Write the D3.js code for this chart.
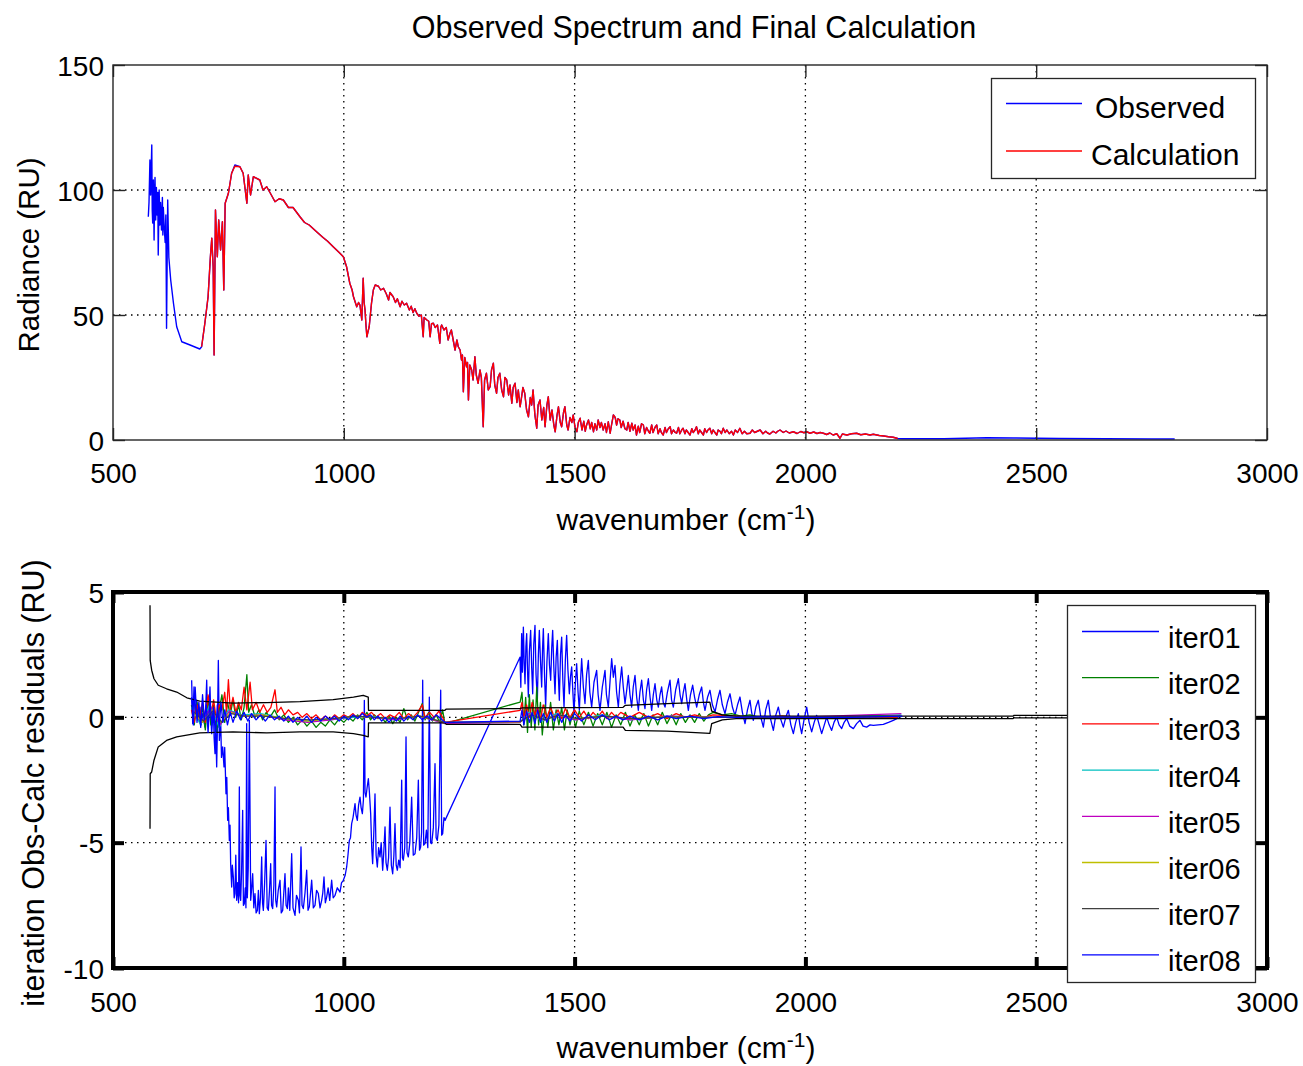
<!DOCTYPE html>
<html><head><meta charset="utf-8">
<script src="https://cdn.jsdelivr.net/npm/d3@7"></script>
<style>body{margin:0;background:#fff} text{font-family:"Liberation Sans",Arial,sans-serif;fill:#000}</style>
</head><body><svg id="c" width="1303" height="1066"></svg>
<script>
// ---------- data ----------
const xTicks = [500, 1000, 1500, 2000, 2500, 3000];
const topYTicks = [0, 50, 100, 150];
const botYTicks = [-10, -5, 0, 5];
const topLegend = ["Observed", "Calculation"];
const iterNames = ["iter01","iter02","iter03","iter04","iter05","iter06","iter07","iter08"];

// [wavenumber, radiance]
const observed = [
 [576.5,89.3],[578,95],[580,112],[581.5,98],[584,118],[585,92],[586,86.8],[587.5,104],[589,80],[590,96],[591,105],[592.5,88],
 [594,101],[595.5,90],[597,99],[598,74],[600,100],[601.5,86],[603,95],[605,84],[607,97],[608,82],
 [609,93],[611,85],[613,79],[614.5,90],[616,44.7],[618.5,96],[621,73],[625,64],[631,54.7],[638,45.3],[649,39.3],[667,38],[688,36.4],
 [692,37.3],[699,46.7],[706,57.3],[711,73.3],[714,80.7],[717,69.3],[719,34],[722,92],[726,73.3],
 [729,88],[733,76],[737,87.3],[740,60],[743,94.7],[750,98.7],[757,106.7],[764,110],[775,109.3],[782,106.7],
 [790,94.7],[793,106],[798,98],[804,105.3],[818,104],[825,100],[833,101.3],[840,99],[851,95.3],[860,96.5],
 [869,96],[880,93],[890,93],[905,89.3],[915,87],[925,86],[941,83.3],[955,81],[965,79.5],[977,77.3],[990,75],
 [999,73.3],[1006,69.3],[1013,62.7],[1018,60],[1021,57.3],[1025,55],[1028,53.3],[1032,55],[1035,54],[1039,48],
 [1042,64.7],[1044,55],[1046,52],[1048,46],[1050,41.3],[1052,43],[1055,45.3],[1060,54.7],[1064,60],[1068,62],
 [1075,61.5],[1080,60],[1086,60.7],[1092,58.5],[1097,56],[1100,59],[1107,57.3],[1112,55],[1116,56.5],[1122,53.3],
 [1126,55.5],[1131,54],[1136,54.7],[1142,52],[1146,53.5],[1150,51],[1154,52.5],[1158,50.7],[1163,49.5],[1168,50],
 [1172,41.3],[1174,49],[1180,48],[1184,47.5],[1187,41.3],[1190,46.5],[1194,46.7],[1198,45],[1203,46],[1208,38.7],
 [1210,45],[1212,46],[1217,44],[1222,45],[1226,40],[1230,42.7],[1233,44],[1237,40],[1241,36],[1245,40],
 [1248,37.3],[1252,36],[1255,32],[1257,34],[1259,19.3],[1262,33],[1266,29.3],[1268,31],[1270,16],[1273,30],
 [1277,28],[1280,24],[1284,33.3],[1287,26],[1291,22.7],[1295,28],[1298,25],[1302,5.3],[1305,24],[1309,26.7],
 [1313,20],[1317,21.3],[1320,28],[1324,30.7],[1327,22],[1331,18.7],[1334,25],[1338,26.7],[1342,20],[1346,17.3],
 [1349,25],[1353,24],[1357,18],[1360,22],[1364,14.7],[1367,21],[1371,22.7],[1375,15],[1378,20],[1382,13.3],
 [1385,17],[1388,21],[1392,18.7],[1396,12],[1400,9.3],[1404,17],[1407,14],[1410,20],[1414,10],[1418,4.7],
 [1421,14],[1425,16],[1429,8],[1433,13],[1436,5.3],[1440,14],[1443,17.3],[1447,8],[1451,12],[1455,6],
 [1458,3.3],[1462,10],[1465,13.3],[1469,7],[1472,5.3],[1476,11],[1479,13.3],[1483,6],[1486,4],[1490,9],
 [1494,7],[1497,10],[1501,5],[1505,3.3],[1508,7],[1512,8.7],[1516,4],[1520,7.5],[1523,3.5],[1526,6],
 [1530,8],[1534,4.5],[1537,7],[1541,3.3],[1544,6.5],[1548,4],[1551,8],[1555,5],[1558,7],[1562,4],
 [1566,6.5],[1569,3],[1573,7.3],[1577,2.7],[1580,6],[1584,10],[1588,9],[1591,6],[1594,8.5],[1598,8],
 [1601,5],[1605,7.5],[1609,4.5],[1613,4],[1616,7],[1620,3.5],[1624,6.7],[1627,4],[1631,6],[1634,2],
 [1638,5.5],[1641,3],[1645,6.5],[1649,6],[1652,2.5],[1656,5],[1660,3.5],[1663,2.7],[1667,6],[1670,3],
 [1674,5],[1678,6],[1681,2.5],[1685,4.5],[1688,3],[1692,2],[1696,5],[1699,3],[1703,4.5],[1707,5.3],
 [1710,2.5],[1714,4],[1718,3],[1721,2.7],[1725,5],[1728,2.5],[1732,4],[1735,4.7],[1739,2.5],[1742,4],
 [1746,3],[1750,2],[1754,4.5],[1757,3],[1761,4],[1764,5.3],[1768,2.5],[1771,4],[1775,3],[1779,2],
 [1782,4.5],[1786,3],[1789,4],[1793,4.7],[1797,2.5],[1800,4],[1804,3],[1808,2],[1811,4],[1815,3.5],
 [1818,2.5],[1822,4.7],[1826,3],[1830,4],[1835,2.5],[1840,3.5],[1844,2],[1848,4],[1853,3],[1858,4.7],
 [1863,2.5],[1868,3.5],[1873,2.5],[1880,2.7],[1885,4],[1890,3],[1896,3.5],[1902,4],[1908,2.5],[1914,3.5],
 [1918,2.8],[1923,2.4],[1930,3.5],[1936,2.8],[1940,3.5],[1945,4],[1952,3],[1958,3.6],[1965,2.8],[1974,3.3],
 [1982,2.6],[1990,3.4],[1997,2.9],[2003,3.3],[2010,2.7],[2018,3.2],[2025,2.6],[2032,3],[2039,2.7],[2046,2.2],
 [2053,2.8],[2060,2],[2068,2.5],[2075,0.7],[2080,2.4],[2090,2],[2100,2.5],[2111,2.7],[2120,2.1],[2130,2.4],
 [2140,2],[2147,2.3],[2160,1.8],[2170,1.6],[2180,1.3],[2190,1.1],[2200,0.6],[2210,0.5],[2300,0.5],[2393,0.9],
 [2450,0.8],[2550,0.6],[2650,0.5],[2750,0.4],[2800,0.4]];

const calculation = [
 [692,37.3],[699,46.7],[706,57.3],[711,73.3],[714,80.7],[717,69.3],[719,34],[722,92],[726,73.3],
 [729,88],[733,76],[737,87.3],[740,60],[743,94.7],[750,98.7],[757,106.7],[764,109.5],[775,109.3],[782,106.7],
 [790,94.7],[793,106],[798,98],[804,105.3],[818,104],[825,100],[833,101.3],[840,99],[851,95.3],[860,96.5],
 [869,96],[880,93],[890,93],[905,89.3],[915,87],[925,86],[941,83.3],[955,81],[965,79.5],[977,77.3],[990,75],
 [999,73.3],[1006,69.3],[1013,62.7],[1018,60],[1021,57.3],[1025,55],[1028,53.3],[1032,55],[1035,54],[1039,48],
 [1042,64.7],[1044,55],[1046,52],[1048,46],[1050,41.3],[1052,43],[1055,45.3],[1060,54.7],[1064,60],[1068,62],
 [1075,61.5],[1080,60],[1086,60.7],[1092,58.5],[1097,56],[1100,59],[1107,57.3],[1112,55],[1116,56.5],[1122,53.3],
 [1126,55.5],[1131,54],[1136,54.7],[1142,52],[1146,53.5],[1150,51],[1154,52.5],[1158,50.7],[1163,49.5],[1168,50],
 [1172,41.3],[1174,49],[1180,48],[1184,47.5],[1187,41.3],[1190,46.5],[1194,46.7],[1198,45],[1203,46],[1208,38.7],
 [1210,45],[1212,46],[1217,44],[1222,45],[1226,40],[1230,42.7],[1233,44],[1237,40],[1241,36],[1245,40],
 [1248,37.3],[1252,36],[1255,32],[1257,34],[1259,19.3],[1262,33],[1266,29.3],[1268,31],[1270,16],[1273,30],
 [1277,28],[1280,24],[1284,33.3],[1287,26],[1291,22.7],[1295,28],[1298,25],[1302,5.3],[1305,24],[1309,26.7],
 [1313,20],[1317,21.3],[1320,28],[1324,30.7],[1327,22],[1331,18.7],[1334,25],[1338,26.7],[1342,20],[1346,17.3],
 [1349,25],[1353,24],[1357,18],[1360,22],[1364,14.7],[1367,21],[1371,22.7],[1375,15],[1378,20],[1382,13.3],
 [1385,17],[1388,21],[1392,18.7],[1396,12],[1400,9.3],[1404,17],[1407,14],[1410,20],[1414,10],[1418,4.7],
 [1421,14],[1425,16],[1429,8],[1433,13],[1436,5.3],[1440,14],[1443,17.3],[1447,8],[1451,12],[1455,6],
 [1458,3.3],[1462,10],[1465,13.3],[1469,7],[1472,5.3],[1476,11],[1479,13.3],[1483,6],[1486,4],[1490,9],
 [1494,7],[1497,10],[1501,5],[1505,3.3],[1508,7],[1512,8.7],[1516,4],[1520,7.5],[1523,3.5],[1526,6],
 [1530,8],[1534,4.5],[1537,7],[1541,3.3],[1544,6.5],[1548,4],[1551,8],[1555,5],[1558,7],[1562,4],
 [1566,6.5],[1569,3],[1573,7.3],[1577,2.7],[1580,6],[1584,10],[1588,9],[1591,6],[1594,8.5],[1598,8],
 [1601,5],[1605,7.5],[1609,4.5],[1613,4],[1616,7],[1620,3.5],[1624,6.7],[1627,4],[1631,6],[1634,2],
 [1638,5.5],[1641,3],[1645,6.5],[1649,6],[1652,2.5],[1656,5],[1660,3.5],[1663,2.7],[1667,6],[1670,3],
 [1674,5],[1678,6],[1681,2.5],[1685,4.5],[1688,3],[1692,2],[1696,5],[1699,3],[1703,4.5],[1707,5.3],
 [1710,2.5],[1714,4],[1718,3],[1721,2.7],[1725,5],[1728,2.5],[1732,4],[1735,4.7],[1739,2.5],[1742,4],
 [1746,3],[1750,2],[1754,4.5],[1757,3],[1761,4],[1764,5.3],[1768,2.5],[1771,4],[1775,3],[1779,2],
 [1782,4.5],[1786,3],[1789,4],[1793,4.7],[1797,2.5],[1800,4],[1804,3],[1808,2],[1811,4],[1815,3.5],
 [1818,2.5],[1822,4.7],[1826,3],[1830,4],[1835,2.5],[1840,3.5],[1844,2],[1848,4],[1853,3],[1858,4.7],
 [1863,2.5],[1868,3.5],[1873,2.5],[1880,2.7],[1885,4],[1890,3],[1896,3.5],[1902,4],[1908,2.5],[1914,3.5],
 [1918,2.8],[1923,2.4],[1930,3.5],[1936,2.8],[1940,3.5],[1945,4],[1952,3],[1958,3.6],[1965,2.8],[1974,3.3],
 [1982,2.6],[1990,3.4],[1997,2.9],[2003,3.3],[2010,2.7],[2018,3.2],[2025,2.6],[2032,3],[2039,2.7],[2046,2.2],
 [2053,2.8],[2060,2],[2068,2.5],[2075,0.7],[2080,2.4],[2090,2],[2100,2.5],[2111,2.7],[2120,2.1],[2130,2.4],
 [2140,2],[2147,2.3],[2160,1.8],[2170,1.6],[2180,1.3],[2190,1.1],[2200,0.6]];

// [wavenumber, residual]
const iter01 = [
 [670.4,1.48],[672.6,-0.25],[675.5,1.21],[678.4,0.15],[681.3,0.68],[684.9,-0.12],[688.5,0.41],[691,-0.3],[694.3,0.15],[699.3,-0.39],
 [703,1.48],[704.5,0.2],[706.5,-0.25],[710.1,1.21],[712,0],[713.8,-0.65],[717.4,0.41],[719,-0.8],[721,-1.45],[722.5,-0.3],
 [724.6,-1.98],[726,-0.6],[728.2,2.27],[730.4,-0.92],[733.3,-0.12],[735,-1.6],[737.6,-1.18],[740.5,-1.98],[742,-1.2],[744.8,-3.05],
 [746.5,-2.4],[748.4,-4.11],[750,-3.6],[752,-4.91],[753.5,-4.3],[754.9,-5.84],[757.1,-6.77],[758.5,-5.9],[760.7,-6.37],[762.5,-7.2],
 [764.3,-7.03],[766,-5.5],[767.9,-7.3],[770,-6.6],[772,-7.4],[773.7,-2.78],[775,-7.1],[776.6,-7.3],[778.5,-6.2],[780.9,-3.71],
 [782.5,-7.5],[784.5,-7.43],[786.5,-6.8],[788,-7.6],[789.6,-0.25],[791,-7.2],[793,-6],[795.4,-0.12],[798.3,-7.3],[800.5,-6.8],
 [802.6,-6.24],[805,-7.6],[807.6,-7.03],[810,-7.8],[812.7,-7.7],[815,-6.9],[817,-7.83],[819.5,-7.2],[822.1,-5.57],[824,-7.4],
 [825.7,-7.7],[828.5,-6.6],[831.5,-4.91],[834,-7.6],[836.5,-7.7],[839,-6.9],[841.6,-5.84],[843.5,-7.5],[845.9,-7.63],[848.5,-6.7],
 [851,-2.78],[852.5,-7.3],[854.6,-7.56],[858,-6.9],[861.8,-6.5],[864.5,-7.8],[867.6,-7.7],[870,-7],[872.6,-6.24],[875,-7.5],
 [877.7,-7.63],[880,-6.8],[883,-7.7],[887.1,-5.44],[890,-7.6],[894.3,-7.9],[897.5,-7.1],[901.5,-7.3],[904,-7.8],[907.3,-5.17],
 [909.5,-7.5],[912.3,-7.63],[916,-7],[919.6,-6.1],[922.5,-7.7],[925.3,-7.56],[928,-7],[930.4,-6.5],[934,-7.6],[937.6,-7.5],
 [941,-6.9],[944.8,-7.03],[948.5,-7.6],[952.1,-7.3],[954.5,-7],[957.1,-6.37],[960,-7.4],[962.9,-7.17],[966,-6.8],[969.5,-7.3],
 [973.7,-6.5],[977,-7.2],[981,-7.1],[986,-6.8],[991.8,-6.97],[995,-6.6],[999,-6.5],[1003,-6.3],[1006.2,-5.97],[1009,-5.5],
 [1012,-4.91],[1014.5,-4.8],[1017,-4.24],[1020,-4],[1024.3,-3.44],[1026.5,-3.9],[1029.3,-4.11],[1032,-3.5],[1035.1,-3.18],[1037.5,-3.6],
 [1040.2,-3.84],[1042.5,-3.3],[1044.5,0.68],[1046,-3],[1048.1,-3.18],[1050.5,-2.8],[1053.2,-2.45],[1055.5,-3],[1058.2,-3.84],[1060.5,-5.2],
 [1062.5,-5.84],[1065,-4.6],[1067.6,-3.05],[1070,-5.5],[1072.6,-5.97],[1075.5,-5.2],[1078.4,-5.57],[1081,-5],[1084.2,-6.1],[1086.5,-5.4],
 [1089.3,-4.37],[1091.5,-5.8],[1094.3,-6.1],[1097,-5.6],[1100.1,-3.58],[1103,-5.9],[1105.9,-6.24],[1108.5,-5.5],[1110.9,-4.24],[1113.5,-5.9],
 [1116,-6.1],[1119,-5.7],[1122,-6],[1125.4,-2.51],[1127,-5.6],[1129,-5.7],[1132,-5.2],[1134.8,-0.78],[1137,-5.4],[1139.8,-5.57],
 [1143,-5],[1147,-3.18],[1150.5,-5.5],[1154.3,-5.44],[1158,-4.8],[1161.5,-2.51],[1164,-5.3],[1166.5,-5.17],[1168.5,-4.6],[1170.9,1.48],
 [1173,-5.1],[1175.9,-5.04],[1179,-4.5],[1182,-5.2],[1185.3,0.81],[1188,-5],[1190.4,-5.04],[1194,-4.4],[1197.6,-1.85],[1200,-4.8],
 [1202.6,-4.91],[1206,-4.3],[1209.9,1.08],[1212,-4.7],[1214.2,-4.64],[1217,-4],[1219.3,-4.11],
 [1381.7,2.4],[1383.5,1.2],[1385.3,3.34],[1387,1.8],[1389,3.6],[1390.8,2.2],[1392.6,1.34],[1394.5,2.8],[1396.2,3.34],[1398,1.9],
 [1399.8,0.81],[1402,2.6],[1404.8,3.47],[1407,2],[1409.2,0.94],[1411.5,2.9],[1414.2,3.67],[1416.5,1.7],[1419.3,0.68],[1421.5,2.5],
 [1423.6,3.47],[1426,2.3],[1428.7,1.21],[1430.5,2.7],[1432.3,3.54],[1435,1.6],[1437.3,0.41],[1440,2.2],[1443.1,3.34],[1445.5,2.1],
 [1448.2,1.48],[1450.5,2.8],[1452.5,3.47],[1455,2],[1457.6,0.94],[1460,2.4],[1462.6,3.07],[1464.5,1.8],[1466.9,0.68],[1469.5,2.5],
 [1472,3.2],[1474.5,1.5],[1477.1,0.41],[1480,2.3],[1482.8,3.27],[1485.5,1.9],[1488.6,0.94],[1491,1.6],[1493.7,2.01],[1496,1.1],
 [1498.7,0.15],[1501.5,1.3],[1504.5,2.14],[1507.5,1],[1510.3,0.28],[1513,1.5],[1515.3,2.34],[1519,1.2],[1522.5,0.55],[1526,1.7],
 [1529.8,2.27],[1533,1],[1537,0.41],[1542,1.4],[1547.8,1.87],[1551,0.9],[1555,0.28],[1560,1.2],[1565.9,1.87],[1569,0.9],
 [1573.1,0.41],[1577,1.5],[1580.3,2.34],[1584,1.6],[1587.5,2.07],[1591,1],[1594.8,0.41],[1598,1.3],[1602,2.01],[1605.5,1.2],
 [1609.2,0.55],[1613,1.1],[1616.4,1.67],[1620,0.9],[1623.6,0.41],[1627,1.2],[1630.9,1.67],[1634.5,0.8],[1638.1,0.28],[1641.5,1],
 [1645.3,1.48],[1649,0.7],[1652.5,0.35],[1656,1.1],[1659.8,1.54],[1663.5,0.8],[1667,0.28],[1670.5,0.9],[1674.2,1.34],[1678,0.7],
 [1681.4,0.41],[1685,0.9],[1688.6,1.21],[1692,0.6],[1695.9,0.41],[1701,1],[1706.7,1.48],[1710,0.7],[1713.9,0.41],[1719,1.1],
 [1724.8,1.54],[1728.5,0.9],[1732,0.55],[1735.5,1],[1739.2,1.34],[1743,0.7],[1746.4,0.28],[1751,0.9],[1755.8,1.28],[1760,0.8],
 [1764.5,0.41],[1770,0.9],[1775.3,1.21],[1779,0.6],[1782.5,0.28],[1788,0.8],[1793.3,1.08],[1798.5,0.5],[1804.2,0.21],[1809.5,0.7],
 [1815,1.08],[1820,0.5],[1825.8,0.15],[1831,0.6],[1836.7,0.94],[1842,0.4],[1847.5,0.08],[1853,0.5],[1858.3,0.81],[1863.5,0.2],
 [1869.2,-0.25],[1874.5,0.3],[1880,0.68],[1883.5,0.2],[1887.2,-0.12],[1892.5,0.4],[1898,0.68],[1903.5,0],[1908.9,-0.39],[1914,0.3],
 [1919.7,0.68],[1925,-0.1],[1930.6,-0.52],[1936,0.1],[1941.4,0.41],[1947,-0.1],[1952.2,-0.39],[1957.5,0],[1963.1,0.28],[1968.5,-0.3],
 [1973.9,-0.65],[1979,-0.2],[1984.7,0.15],[1988,-0.3],[1991.9,-0.65],[1997,-0.1],[2002.8,0.41],[2008,-0.2],[2013.6,-0.58],[2019,-0.2],
 [2024.4,0.08],[2030,-0.3],[2035.3,-0.65],[2041,-0.3],[2046.1,0.01],[2051.5,-0.3],[2056.9,-0.52],[2062,-0.2],[2067.8,0.01],[2073,-0.3],
 [2078.6,-0.45],[2084,-0.2],[2089.4,-0.05],[2096,-0.35],[2103.9,-0.45],[2111,-0.25],[2118.3,-0.12],[2125,-0.35],[2132.7,-0.39],[2140,-0.3],
 [2147.2,-0.32],[2158,-0.3],[2168.8,-0.28],[2180,-0.2],[2190.5,-0.12],[2198,-0.05],[2204.9,0.08]];

const iter02 = [
 [670,0.5],[676,-0.3],[682,0.6],[688,-0.2],[694,0.4],[700,-0.5],[706,0.8],[712,-0.3],[718,0.5],[724,-0.6],
 [730,0.3],[736,0.9],[742,-0.2],[748,0.6],[754,0.1],[760,0.7],[766,0],[772,0.5],[778,-0.1],[784,0.4],
 [790,1.7],[794,0.2],[800,0.5],[808,0],[816,0.3],[824,-0.1],[832,0.2],[840,0],[850,0.3],[860,-0.1],
 [870,0.1],[880,-0.2],[890,0],[900,-0.3],[910,-0.1],[920,-0.35],[930,-0.15],[940,-0.4],[950,-0.2],[960,-0.35],
 [970,-0.1],[980,-0.3],[990,-0.05],[1000,-0.2],[1010,0],[1020,-0.15],[1030,0.1],[1040,-0.1],[1050,0.2],[1058,-0.1],
 [1066,0.1],[1074,-0.05],[1082,0],[1090,-0.2],[1098,0.05],[1106,-0.25],[1114,0],[1122,-0.2],[1130,0.35],[1138,-0.1],
 [1146,0.1],[1154,-0.15],[1162,0.2],[1170,0.55],[1176,-0.1],[1184,0.2],[1192,-0.15],[1200,0.1],[1208,-0.2],[1214,0.3],
 [1219,-0.25],[1382,0.61],[1386,1],[1390,-0.3],[1394,0.8],[1398,-0.6],[1402,0.9],[1406,-0.4],[1410,0.7],[1414,-0.5],
 [1418,1.2],[1422,-0.3],[1426,0.6],[1430,-0.7],[1436,0.5],[1442,-0.4],[1448,0.6],[1454,-0.5],[1460,0.3],[1466,-0.3],
 [1472,0.4],[1478,-0.5],[1484,0.3],[1490,-0.3],[1496,0.2],[1502,-0.4],[1510,0.25],[1520,-0.3],[1530,0.2],[1540,-0.35],
 [1550,0.15],[1560,-0.3],[1570,0.2],[1580,-0.4],[1590,0.1],[1600,-0.3],[1610,0.2],[1620,-0.35],[1630,0.1],[1640,-0.3],
 [1650,0.15],[1660,-0.35],[1670,0.1],[1680,-0.3],[1690,0.2],[1700,-0.25],[1710,0.1],[1720,-0.3],[1730,0.15],[1740,-0.2],
 [1750,0.1],[1760,-0.2],[1770,0.15],[1780,-0.15],[1790,0.1],[1800,0.2],[1820,0.1],[1840,0.15],[1860,0.05],[1880,0.1],
 [1900,0],[1950,0.05],[2000,0],[2100,0.02],[2200,0]];

const iter03 = [
 [670,0.3],[676,-0.2],[682,0.5],[688,0],[694,0.6],[700,-0.2],[706,0.9],[712,0.1],[718,0.7],[724,-0.1],
 [730,0.5],[736,0.3],[742,1],[746,0.2],[750,1.5],[754,0.3],[760,0.8],[766,0.2],[772,0.6],[778,0.3],
 [784,1.2],[790,0.3],[797,1.4],[802,0.3],[810,0.6],[818,0.2],[826,0.5],[834,0.2],[842,0.4],[851,1.1],
 [856,0.2],[864,0.4],[872,0.1],[880,0.3],[890,0.1],[900,0.2],[910,0],[920,0.15],[930,-0.05],[940,0.1],
 [950,-0.1],[960,0.05],[970,-0.1],[980,0.1],[990,-0.05],[1000,0.1],[1010,0],[1020,0.15],[1030,-0.05],[1040,0.2],
 [1050,0.05],[1060,0.2],[1070,0],[1080,0.15],[1090,-0.05],[1100,0.1],[1110,0],[1120,0.2],[1130,-0.05],[1140,0.15],
 [1150,0],[1160,0.2],[1170,0.5],[1176,0],[1186,0.2],[1196,0],[1206,0.25],[1214,0],[1219,-0.2],[1382,0.28],
 [1386,0.6],[1390,-0.1],[1396,0.5],[1402,0],[1408,0.6],[1414,0.1],[1420,0.4],[1426,-0.1],[1432,0.5],[1440,0],
 [1448,0.4],[1456,0],[1464,0.3],[1472,-0.05],[1480,0.35],[1490,0],[1500,0.3],[1510,0],[1520,0.25],[1530,-0.05],
 [1540,0.2],[1550,0],[1560,0.25],[1570,-0.05],[1580,0.2],[1590,0],[1600,0.2],[1620,0],[1640,0.2],[1660,0],
 [1680,0.15],[1700,-0.05],[1720,0.15],[1740,0],[1760,0.1],[1780,0],[1800,0.1],[1850,0.05],[1900,0],[1950,0.05],
 [2000,0],[2100,0.02],[2200,0]];

const iter04 = [[670,0.4],[690,-0.3],[710,0.5],[730,-0.4],[750,0.3],[780,0.1],[820,0.15],[870,-0.05],[920,-0.15],[970,-0.1],
 [1020,0],[1060,0.05],[1110,-0.1],[1160,0.05],[1219,-0.22],[1382,-0.19],[1400,0.2],[1430,-0.15],[1460,0.15],[1500,-0.1],
 [1560,0.1],[1620,-0.1],[1700,0.05],[1800,0],[1900,0.02],[2000,0],[2208,0.1]];
const iter05 = [[672,0.3],[692,-0.2],[712,0.4],[732,-0.3],[752,0.25],[782,0.05],[822,0.1],[872,-0.1],[922,-0.2],[972,-0.1],
 [1022,0.05],[1062,0],[1112,-0.1],[1162,0.05],[1219,-0.24],[1382,-0.2],[1402,0.15],[1432,-0.1],[1462,0.1],[1502,-0.1],
 [1562,0.05],[1622,-0.1],[1702,0.05],[1802,0],[1902,0],[2002,0.02],[2208,0.15]];
const iter06 = [[674,0.2],[694,-0.2],[714,0.3],[734,-0.2],[754,0.2],[784,0.05],[824,0.1],[874,-0.05],[924,-0.15],[974,-0.05],
 [1024,0.05],[1064,0],[1114,-0.05],[1164,0.05],[1219,-0.2],[1382,-0.18],[1404,0.1],[1434,-0.1],[1464,0.1],[1504,-0.05],
 [1564,0.05],[1624,-0.05],[1704,0.03],[1804,0],[2004,0],[2208,0.05]];
const iter07 = [[676,0.2],[696,-0.15],[716,0.25],[736,-0.2],[756,0.15],[786,0.05],[826,0.05],[876,-0.05],[926,-0.1],[976,-0.05],
 [1026,0.05],[1066,0],[1116,-0.05],[1166,0.05],[1219,-0.2],[1382,-0.17],[1406,0.1],[1436,-0.1],[1466,0.1],[1506,-0.05],
 [1566,0.05],[1626,-0.05],[1706,0.02],[1806,0],[2006,0],[2208,0.03]];
const iter08 = [
 [670,0.8],[674,-0.3],[678,1.2],[682,-0.2],[686,0.6],[690,-0.4],[694,0.9],[698,-0.1],[702,0.5],[706,-0.6],
 [710,0.7],[714,-0.3],[718,0.4],[722,-0.8],[726,0.5],[730,-0.4],[734,0.6],[738,-0.2],[742,0.3],[748,-0.3],
 [754,0.2],[760,-0.2],[768,0.25],[776,-0.1],[784,0.2],[792,-0.15],[800,0.15],[810,-0.1],[820,0.1],[830,-0.15],
 [840,0.1],[850,-0.1],[860,0.05],[870,-0.15],[880,0.05],[890,-0.2],[900,0],[910,-0.15],[920,0.05],[930,-0.2],
 [940,0],[950,-0.15],[960,0.05],[970,-0.1],[980,0.05],[990,-0.15],[1000,0.05],[1010,-0.1],[1020,0.1],[1030,-0.05],
 [1040,0.15],[1050,0],[1058,0.1],[1066,-0.1],[1074,0.05],[1082,-0.15],[1090,0],[1098,-0.2],[1106,0],[1114,-0.15],
 [1122,0.05],[1130,-0.15],[1140,0.05],[1150,-0.1],[1160,0.1],[1170,-0.1],[1180,0.05],[1190,-0.1],[1200,0.1],[1210,-0.05],
 [1219,-0.2],[1382,-0.15],[1386,0.3],[1390,-0.3],[1396,0.25],[1402,-0.2],[1408,0.2],[1414,-0.25],[1420,0.3],[1426,-0.2],
 [1432,0.15],[1440,-0.2],[1448,0.2],[1456,-0.15],[1464,0.15],[1472,-0.2],[1480,0.1],[1490,-0.15],[1500,0.15],[1515,-0.15],
 [1530,0.1],[1545,-0.1],[1560,0.1],[1575,-0.1],[1590,0.05],[1605,-0.1],[1620,0.05],[1640,-0.1],[1660,0.05],[1680,-0.1],
 [1700,0.05],[1720,-0.05],[1750,0.05],[1780,-0.05],[1810,0.03],[1850,0],[1900,0.02],[2000,0],[2100,0],[2210,0.05]];

const noiseUpper = [[580.2,4.47],[580.6,2.27],[583.8,1.88],[588.8,1.54],[598,1.28],[616,1.14],[638,1.01],[660,0.78],[688,0.65],[760,0.57],
 [833,0.59],[905,0.63],[977,0.71],[1021,0.81],[1042,0.88],[1053,0.81],[1053.5,0.28],[1219,0.28],[1222,0.33],[1382,0.35],
 [1386,0.38],[1605,0.4],[1610,0.48],[1700,0.55],[1793,0.61],[1797,0.25],[1820,0.1],[1850,0.05],[2450,0.05],[2452,0.08],[2800,0.08]];
const noiseLower = [[580.2,-4.44],[580.6,-2.25],[583.8,-2.18],[588.8,-1.71],[598,-1.18],[616,-0.92],[638,-0.78],[688,-0.62],[760,-0.58],[833,-0.62],
 [905,-0.58],[977,-0.58],[1021,-0.65],[1042,-0.72],[1053,-0.78],[1053.5,-0.22],[1219,-0.22],[1222,-0.28],[1382,-0.28],[1386,-0.39],
 [1605,-0.39],[1610,-0.52],[1700,-0.55],[1793,-0.64],[1797,-0.25],[1820,-0.1],[1850,-0.05],[2450,-0.05],[2452,-0.02],[2800,-0.02]];

// ---------- drawing ----------
const FONT = 'Liberation Sans, Arial, sans-serif';
const svg = d3.select('#c');
const x = d3.scaleLinear().domain([500, 3000]).range([113, 1267]);
const yT = d3.scaleLinear().domain([0, 150]).range([440, 65]);
const yB = d3.scaleLinear().domain([-10, 5]).range([968, 592]);
const L = 113, R = 1267;
const plain = d => String(d);

const defs = svg.append('defs');
defs.append('clipPath').attr('id','clipT').append('rect').attr('x',L).attr('y',65).attr('width',R-L).attr('height',375);
defs.append('clipPath').attr('id','clipB').append('rect').attr('x',L).attr('y',592).attr('width',R-L).attr('height',376);

function grid(yS, yGrid, top, bottom) {
  const g = svg.append('g').attr('stroke','#000').attr('stroke-width',1.3).attr('stroke-dasharray','1.5,4.5');
  xTicks.slice(1,-1).forEach(v => g.append('line').attr('x1',x(v)).attr('x2',x(v)).attr('y1',top).attr('y2',bottom));
  yGrid.forEach(v => g.append('line').attr('x1',L).attr('x2',R).attr('y1',yS(v)).attr('y2',yS(v)));
}

function frame(yS, yTicksArr, top, bottom, sw, tickLen, col, labelY) {
  const g = svg.append('g');
  const ab = g.append('g').attr('transform',`translate(0,${bottom})`).call(d3.axisBottom(x).tickValues(xTicks).tickSize(-tickLen).tickFormat(''));
  const at = g.append('g').attr('transform',`translate(0,${top})`).call(d3.axisTop(x).tickValues(xTicks).tickSize(-tickLen).tickFormat(''));
  const al = g.append('g').attr('transform',`translate(${L},0)`).call(d3.axisLeft(yS).tickValues(yTicksArr).tickSize(-tickLen).tickFormat(''));
  const ar = g.append('g').attr('transform',`translate(${R},0)`).call(d3.axisRight(yS).tickValues(yTicksArr).tickSize(-tickLen).tickFormat(''));
  [ab,at,al,ar].forEach(a => { a.select('.domain').remove(); a.selectAll('line').attr('stroke',col).attr('stroke-width',sw); });
  g.append('rect').attr('x',L).attr('y',top).attr('width',R-L).attr('height',bottom-top)
    .attr('fill','none').attr('stroke',col).attr('stroke-width',sw);
  const lb = g.append('g').attr('transform',`translate(0,${bottom})`).call(d3.axisBottom(x).tickValues(xTicks).tickSize(0).tickFormat(plain));
  lb.select('.domain').remove();
  lb.selectAll('text').attr('y',labelY).attr('dy',null).attr('font-size',28).attr('font-family',FONT).attr('fill','#000');
  const ll = g.append('g').attr('transform',`translate(${L},0)`).call(d3.axisLeft(yS).tickValues(yTicksArr).tickSize(0).tickFormat(plain));
  ll.select('.domain').remove();
  ll.selectAll('text').attr('x',-9).attr('dy','0.36em').attr('font-size',28).attr('font-family',FONT).attr('fill','#000');
}

function xLabel(yBase) {
  const t = svg.append('text').attr('x',686).attr('y',yBase).attr('text-anchor','middle').attr('font-size',30);
  t.append('tspan').text('wavenumber (cm');
  t.append('tspan').attr('dy',-11).attr('font-size',21).text('-1');
  t.append('tspan').attr('dy',11).text(')');
}

function drawLine(data, yS, color, clip, w) {
  svg.append('path').datum(data).attr('clip-path',`url(#${clip})`)
    .attr('fill','none').attr('stroke',color).attr('stroke-width',w||1.3).attr('stroke-linejoin','round')
    .attr('d', d3.line().defined(d => d[1] != null).x(d => x(d[0])).y(d => yS(d[1])));
}

// ---- top panel ----
grid(yT, [50,100], 65, 440);
drawLine(observed, yT, '#0000ff', 'clipT', 1.4);
drawLine(calculation, yT, '#ff0000', 'clipT', 1.4);
frame(yT, topYTicks, 65, 440, 1.4, 12, '#262626', 43);
svg.append('text').attr('x',694).attr('y',38).attr('text-anchor','middle').attr('font-size',30.5).text('Observed Spectrum and Final Calculation');
xLabel(530);
svg.append('text').attr('transform','translate(39,255) rotate(-90)').attr('text-anchor','middle').attr('font-size',29.5).text('Radiance (RU)');

{
  const g = svg.append('g');
  g.append('rect').attr('x',991.5).attr('y',78.5).attr('width',264).attr('height',100).attr('fill','#fff').attr('stroke','#262626').attr('stroke-width',1.3);
  const cols = ['#0000ff','#ff0000'];
  topLegend.forEach((n,i) => {
    const yy = 103.5 + i*47.5;
    g.append('line').attr('x1',1006).attr('x2',1082).attr('y1',yy).attr('y2',yy).attr('stroke',cols[i]).attr('stroke-width',1.3);
    g.append('text').attr('x',i===0?1095:1091).attr('y',yy+14).attr('font-size',30).text(n);
  });
}

// ---- bottom panel ----
grid(yB, [-5,0], 592, 968);
const iterData = [iter01, iter02, iter03, iter04, iter05, iter06, iter07, iter08];
const iterColors = ['#0000ff','#008000','#ff0000','#00bfbf','#bf00bf','#bfbf00','#404040','#0000ff'];
for (let i = 0; i < 6; i++) drawLine(iterData[i], yB, iterColors[i], 'clipB', 1.3);
drawLine(noiseUpper, yB, '#000', 'clipB', 1.3);
drawLine(noiseLower, yB, '#000', 'clipB', 1.3);
drawLine(iter07, yB, iterColors[6], 'clipB', 1.3);
drawLine(iter08, yB, iterColors[7], 'clipB', 1.3);
frame(yB, botYTicks, 592, 968, 4, 11, '#000', 44);
xLabel(1058);
svg.append('text').attr('transform','translate(44,783) rotate(-90)').attr('text-anchor','middle').attr('font-size',30.5).text('iteration Obs-Calc residuals (RU)');

{
  const g = svg.append('g');
  g.append('rect').attr('x',1067.5).attr('y',605.5).attr('width',188).attr('height',377).attr('fill','#fff').attr('stroke','#262626').attr('stroke-width',1.3);
  iterNames.forEach((n,i) => {
    const yy = 631.5 + i*46.2;
    g.append('line').attr('x1',1082).attr('x2',1159).attr('y1',yy).attr('y2',yy).attr('stroke',iterColors[i]).attr('stroke-width',1.3);
    g.append('text').attr('x',1168).attr('y',yy+16.5).attr('font-size',29).text(n);
  });
}
</script></body></html>
